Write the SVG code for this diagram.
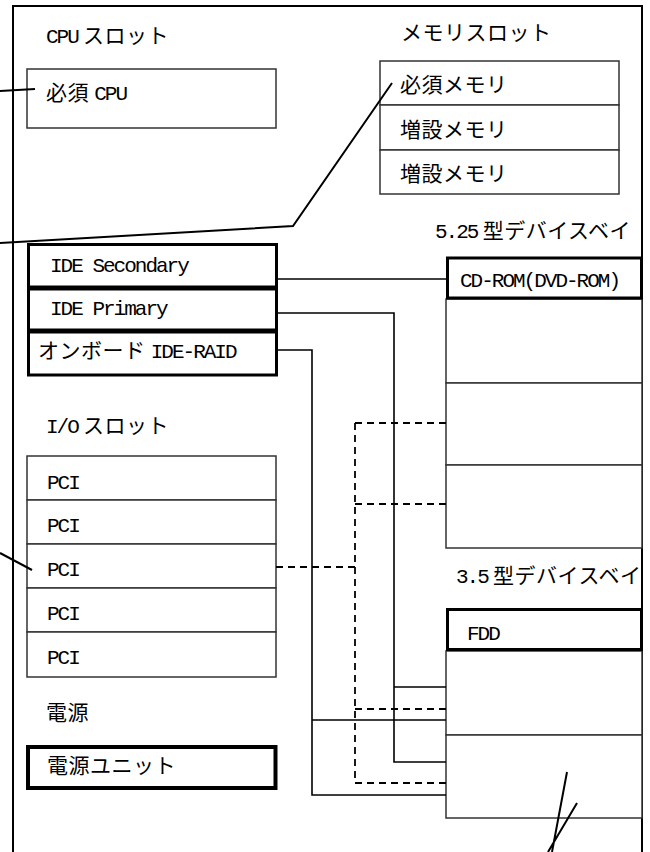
<svg xmlns="http://www.w3.org/2000/svg" width="650" height="852" viewBox="0 0 650 852">
<style>
.j{font-family:"Noto Sans CJK JP",sans-serif;font-size:21px;letter-spacing:0.5px;fill:#000}
.l{font-family:"Liberation Mono",monospace;font-size:21px;letter-spacing:-2px;fill:#000}
.box{fill:#fff;stroke:#333;stroke-width:1.5}
.thick{fill:#fff;stroke:#000;stroke-width:3}
.frame{fill:none;stroke:#000;stroke-width:2}
.c{fill:none;stroke:#000;stroke-width:1.6}
.d{fill:none;stroke:#000;stroke-width:1.8;stroke-dasharray:7 5}
.lead{fill:none;stroke:#000;stroke-width:2}
</style>
<rect width="650" height="852" fill="#fff"/>
<g id="frame"><path class="frame" d="M13,852 V6 H642 V852"/></g>

<g id="cpu-label"><text class="j" x="46" y="43"><tspan class="l">CPU</tspan> スロット</text></g>
<g id="cpu-slot"><rect class="box" x="27" y="69" width="249" height="59"/><text class="j" x="46" y="100">必須 <tspan class="l">CPU</tspan></text></g>

<g id="mem-label"><text class="j" x="401" y="40">メモリスロット</text></g>
<g id="mem-1"><rect class="box" x="380" y="61" width="239" height="44"/><text class="j" x="400" y="92">必須メモリ</text></g>
<g id="mem-2"><rect class="box" x="380" y="105" width="239" height="45"/><text class="j" x="400" y="136.5">増設メモリ</text></g>
<g id="mem-3"><rect class="box" x="380" y="150" width="239" height="44"/><text class="j" x="400" y="181">増設メモリ</text></g>

<g id="bay525-label"><text class="j" x="435" y="238"><tspan class="l">5.25</tspan> 型デバイスベイ</text></g>
<g id="bay525-2"><rect class="box" x="446" y="299" width="196" height="84"/></g>
<g id="bay525-3"><rect class="box" x="446" y="383" width="196" height="82"/></g>
<g id="bay525-4"><rect class="box" x="446" y="465" width="196" height="83"/></g>
<g id="cdrom"><rect class="thick" x="447.5" y="258" width="194" height="40"/><text class="l" x="460" y="287">CD-ROM(DVD-ROM)</text></g>

<g id="ide-secondary"><rect class="thick" x="28.5" y="244.5" width="248" height="42.5"/><text class="l" x="50" y="272">IDE Secondary</text></g>
<g id="ide-primary"><rect class="thick" x="28.5" y="289" width="248" height="41"/><text class="l" x="50" y="315">IDE Primary</text></g>
<g id="ide-raid"><rect class="thick" x="28.5" y="332" width="248" height="43"/><text class="j" x="38" y="358">オンボード <tspan class="l">IDE-RAID</tspan></text></g>

<g id="io-label"><text class="j" x="46" y="433"><tspan class="l">I/O</tspan> スロット</text></g>
<g id="pci-1"><rect class="box" x="27" y="456" width="249" height="44"/><text class="l" x="47" y="489">PCI</text></g>
<g id="pci-2"><rect class="box" x="27" y="500" width="249" height="44"/><text class="l" x="47" y="532">PCI</text></g>
<g id="pci-3"><rect class="box" x="27" y="544" width="249" height="44"/><text class="l" x="47" y="576">PCI</text></g>
<g id="pci-4"><rect class="box" x="27" y="588" width="249" height="44"/><text class="l" x="47" y="620">PCI</text></g>
<g id="pci-5"><rect class="box" x="27" y="632" width="249" height="45"/><text class="l" x="47" y="664">PCI</text></g>

<g id="bay35-label"><text class="j" x="456" y="583"><tspan class="l">3.5</tspan> 型デバイスベイ</text></g>
<g id="bay35-2"><rect class="box" x="446" y="651" width="196" height="84"/></g>
<g id="bay35-3"><rect class="box" x="446" y="735" width="196" height="83"/></g>
<g id="fdd"><rect class="thick" x="447.5" y="609.5" width="194" height="40"/><text class="l" x="467" y="640">FDD</text></g>

<g id="power-label"><text class="j" x="46" y="720">電源</text></g>
<g id="power-unit"><rect class="thick" x="28" y="747" width="247.5" height="41" style="stroke-width:4"/><text class="j" x="47" y="773">電源ユニット</text></g>

<g id="connectors">
<path class="c" d="M278,279 H446"/>
<path class="c" d="M278,313 H394 V762 H446 M394,687 H446"/>
<path class="c" d="M278,350 H312 V795 H446 M312,720 H446"/>
<path class="d" d="M276,567 H355 M355,423 V783 M355,423 H446 M355,504 H446 M355,709 H446 M355,783 H446"/>
<path class="lead" d="M0,91 L35,89"/>
<path class="lead" d="M0,243 L293,226 L392,83"/>
<path class="lead" d="M0,553 L32,570"/>
<path class="lead" d="M567,772 L552,852 M577,803 L548,852"/>
</g>
</svg>
